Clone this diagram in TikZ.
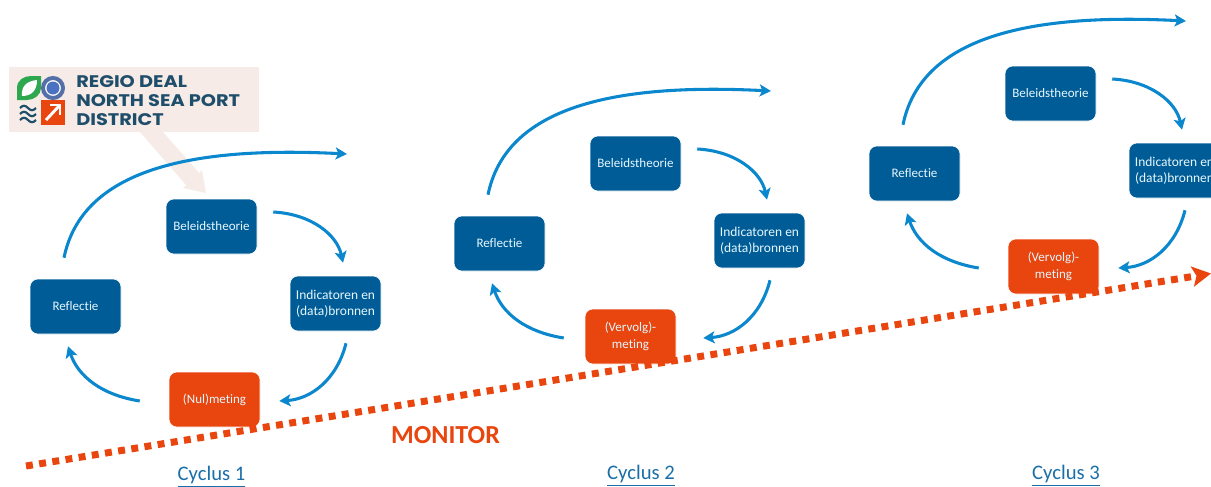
\documentclass[tikz,border=0pt]{standalone}
\usepackage{fontspec}
\setmainfont[Ligatures=NoCommon]{Carlito}
\newfontfamily\logofont[FakeStretch=1.15]{Poppins}
\usetikzlibrary{arrows.meta}
\definecolor{boxblue}{HTML}{005C97}
\definecolor{boxorange}{HTML}{E8450F}
\definecolor{arcblue}{HTML}{0B87CE}
\definecolor{linkblue}{HTML}{1A6FA8}
\definecolor{pale}{HTML}{F6EBE6}
\definecolor{logoblue}{HTML}{1F4E6B}
\definecolor{logogreen}{HTML}{2EA84F}
\definecolor{logoring}{HTML}{5570A8}
\definecolor{logodot}{HTML}{4A72C0}
\tikzset{
  stagebox/.style={rounded corners=6pt,minimum width=68.25pt,minimum height=41.25pt,inner sep=0pt,align=center,
    text=white!90!cyan,font=\fontsize{9.75}{12}\selectfont,draw=white,line width=.4pt},
  bluebox/.style={stagebox,fill=boxblue},
  orangebox/.style={stagebox,fill=boxorange},
  arc/.style={draw=arcblue,line width=2.3pt,-{Stealth[length=8.5pt,width=9pt,inset=2pt]}},
  cyclabel/.style={text=linkblue,font=\fontsize{15.5}{18}\selectfont,inner sep=0pt},
  logotext/.style={text=logoblue,anchor=base west,inner sep=0pt,font=\logofont\bfseries\fontsize{12.6}{14}\selectfont}
}
% #1 prefix, #2 shift, #3 box text, #4 box x-offset
\newcommand{\cyc}[4]{%
\begin{scope}[shift={#2}]
  \node[bluebox] (#1b) at (211.5,226.5) {Beleidstheorie};
  \node[bluebox] (#1i) at (335.5,303.5) {\fontsize{10.1}{12}\selectfont Indicatoren en\\\fontsize{10.1}{12}\selectfont (data)bronnen};
  \node[orangebox] (#1m) at (214.5+#4,399.5) {#3};
  \node[bluebox] (#1r) at (75.5,306.5) {Reflectie};
  \coordinate (#1e) at (347,154);
  \draw[arc] ([shift={(16,-14.5)}]#1b.east) .. controls +(38,2) and +(-6,-28) .. ([shift={(7.5,-13)}]#1i.north);
  \draw[arc] ([shift={(10.5,12)}]#1i.south) .. controls +(-9,36) and +(32,-2) .. ([shift={(19-#4,1.5)}]#1m.east);
  \draw[arc] ([shift={(-29-#4,1.5)}]#1m.west) .. controls +(-38,-6) and +(10,30) .. ([shift={(-7.5,12)}]#1r.south);
  \draw[arc] ([shift={(-11.5,-21)}]#1r.north) .. controls +(18,-88) and +(-157,-8) .. (#1e);
\end{scope}}
\begin{document}
\begin{tikzpicture}[x=.75pt,y=-.75pt]
\useasboundingbox (0,0) rectangle (1211,486);
\clip (0,0) rectangle (1211,486);
% logo
\node[draw=none,fill=pale,minimum width=187.5pt,minimum height=48.75pt,inner sep=0pt] (logobg) at (134,99.5) {};
\fill[pale] (140,132) -- (163,132) -- (199,173) -- (202,170) -- (206,193) -- (183,188) -- (186,185) -- cycle;
\fill[logogreen] (17,100) -- (17,88) .. controls (17,80) and (24,76) .. (31,76) -- (41,76) -- (41,88) .. controls (41,95) and (34,100) .. (27,100) -- cycle;
\fill[white] (22,96) .. controls (21,86) and (27,81) .. (37,80) .. controls (37,90) and (32,96) .. (22,96) -- cycle;
\draw[draw=logoring,line width=3pt,fill=white] (53,88) circle (10);
\fill[logodot] (53,88) circle (6.5);
\fill[boxorange] (41,100) rectangle (65,125);
\draw[white,line width=2.2pt] (46,120) -- (60,105);
\draw[white,line width=2.2pt] (50,105) -- (60,105) -- (60,115);
\foreach \yy in {108,114,120}{
  \draw[logoblue,line width=1.6pt] (20,\yy) .. controls (23,\yy-3) and (25,\yy-3) .. (28,\yy) .. controls (31,\yy+3) and (33,\yy+3) .. (36,\yy);
}
\node[logotext] (l1) at (76,87.5) {REGIO DEAL};
\node[logotext] (l2) at (76,106) {NORTH SEA PORT};
\node[logotext] (l3) at (76,125) {DISTRICT};
% cycles
\cyc{a}{(0,0)}{\raisebox{-2.5pt}{(Nul)meting}}{0}
\cyc{c}{(424,-63)}{\raisebox{-1pt}{(Vervolg)-}\\\raisebox{-1.5pt}{meting}}{-8}
\cyc{d}{(839,-133)}{\raisebox{-1pt}{(Vervolg)-}\\\raisebox{-1.5pt}{meting}}{0}
% monitor
\coordinate (ms) at (26,466);
\coordinate (me) at (1211,273.5);
\draw[boxorange,line width=5.25pt,dash pattern=on 5.2pt off 4.8pt,-{Stealth[length=14pt,width=15pt,inset=3pt]}] (ms) -- (me);
\node[text=boxorange,font=\bfseries\fontsize{19.5}{22}\selectfont,inner sep=0pt] (mon) at (445.5,435.5) {MONITOR};
\node[cyclabel] (c1) at (211.5,476.5) {\underline{Cyclus 1}};
\node[cyclabel] (c2) at (641,475.5) {\underline{Cyclus 2}};
\node[cyclabel] (c3) at (1066,475.5) {\underline{Cyclus 3}};
\end{tikzpicture}
\end{document}
